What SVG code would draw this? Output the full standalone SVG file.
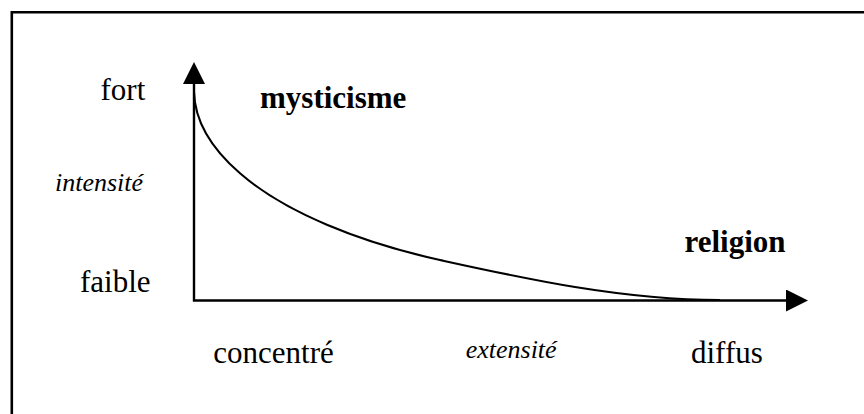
<svg xmlns="http://www.w3.org/2000/svg" width="864" height="414" viewBox="0 0 864 414">
  <style>
    .t { font-family: "Liberation Serif", "Times New Roman", serif; fill: #000; }
    .reg { font-size: 31px; }
    .bold { font-size: 31px; font-weight: bold; }
    .ital { font-size: 26px; font-style: italic; }
    .frame { fill: none; stroke: #000; stroke-width: 2.6; }
    .axis { fill: none; stroke: #000; stroke-width: 2.4; stroke-linejoin: miter; }
    .curve { fill: none; stroke: #000; stroke-width: 2.1; }
  </style>
  <defs>
    <marker id="arrow" markerUnits="userSpaceOnUse" viewBox="0 0 22 22" markerWidth="22" markerHeight="22" refX="0" refY="11" orient="auto-start-reverse">
      <path d="M0,0 L22,11 L0,22 Z" fill="#000"/>
    </marker>
  </defs>
  <rect width="864" height="414" fill="#fff"/>
  <g id="frame">
    <path class="frame" d="M11.8,414 L11.8,12.3 L864,12.3"/>
  </g>
  <g id="connectors">
    <path id="axes" class="axis" d="M194,84 L194,300.5 L786,300.5" marker-start="url(#arrow)" marker-end="url(#arrow)"/>
    <path id="curve" class="curve" d="M194,92 C195,128 220,156 240,173.3 C285,212.5 360,242.4 440,260 C520,277.6 620,300 720,300"/>
  </g>
  <g id="label-fort"><text class="t reg" x="100.5" y="100">fort</text></g>
  <g id="label-mysticisme"><text class="t bold" x="260" y="108">mysticisme</text></g>
  <g id="label-intensite"><text class="t ital" x="55" y="191">intensité</text></g>
  <g id="label-religion"><text class="t bold" x="684.5" y="252">religion</text></g>
  <g id="label-faible"><text class="t reg" x="80" y="292">faible</text></g>
  <g id="label-concentre"><text class="t reg" x="213.3" y="363">concentré</text></g>
  <g id="label-extensite"><text class="t ital" x="465.7" y="358">extensité</text></g>
  <g id="label-diffus"><text class="t reg" x="691" y="363">diffus</text></g>
</svg>
